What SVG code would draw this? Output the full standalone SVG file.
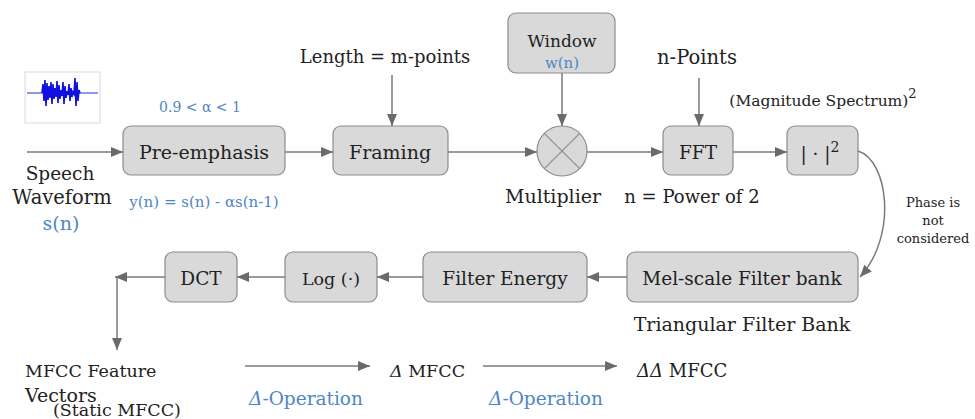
<svg xmlns="http://www.w3.org/2000/svg" width="975" height="419" viewBox="0 0 975 419">
  <defs>
    <marker id="arrow" markerWidth="12" markerHeight="10" refX="12" refY="5" orient="auto" markerUnits="userSpaceOnUse">
      <path d="M0,0 L12,5 L0,10 Z" fill="#6a6a6a"/>
    </marker>
    <style>
      .box { fill: #d9d9d9; stroke: #8c8c8c; stroke-width: 1.2; }
      .conn { fill: none; stroke: #7a7a7a; stroke-width: 1.5; marker-end: url(#arrow); }
      .lbl { font-family: "DejaVu Serif", "Liberation Serif", serif; font-size: 18.5px; fill: #222; text-anchor: middle; }
      .blue { font-family: "DejaVu Serif", "Liberation Serif", serif; font-size: 15px; fill: #4f86c6; text-anchor: middle; }
      .small { font-family: "DejaVu Serif", "Liberation Serif", serif; font-size: 13px; fill: #222; text-anchor: middle; }
      .start { text-anchor: start; }
    </style>
  </defs>
  <rect width="975" height="419" fill="#ffffff"/>

  <!-- speech waveform thumbnail -->
  <g id="waveform">
    <rect x="25" y="72" width="75" height="51" fill="#ffffff" stroke="#cfcfcf" stroke-width="0.8"/>
    <line x1="27" y1="93" x2="98" y2="93" stroke="#2a2ad0" stroke-width="1"/>
    <path d="M42,93 L43,84 L44,101 L45,80 L46,106 L47,83 L48,100 L49,86 L50,98 L51,82 L52,104 L53,84 L54,99 L55,88 L56,97 L57,81 L58,103 L59,85 L60,99 L61,90 L62,96 L63,82 L64,104 L65,86 L66,98 L67,91 L68,95 L69,84 L70,101 L71,88 L72,97 L73,92 L74,94 L75,78 L76,106 L77,82 L78,101 L79,90 L80,93" fill="none" stroke="#1010e0" stroke-width="1.6"/>
  </g>

  <!-- input label -->
  <g id="speech-input">
    <text class="lbl" x="60" y="180">Speech</text>
    <text class="lbl" x="62" y="204" style="font-size:19.5px">Waveform</text>
    <text class="blue" x="61" y="230" style="font-size:19px">s(n)</text>
  </g>

  <g id="pre-emphasis">
    <rect class="box" x="123" y="126" width="162" height="49" rx="8"/>
    <text class="lbl" x="204" y="159" style="font-size:19px">Pre-emphasis</text>
    <text class="blue" x="200" y="112" style="font-size:14px">0.9 &lt; α &lt; 1</text>
    <text class="blue" x="204" y="207">y(n) = s(n) - αs(n-1)</text>
  </g>

  <g id="framing">
    <rect class="box" x="333" y="126" width="115" height="49" rx="8"/>
    <text class="lbl" x="390" y="159" style="font-size:19px">Framing</text>
    <text class="lbl" x="385" y="63" style="font-size:18px">Length = m-points</text>
  </g>

  <g id="window">
    <rect class="box" x="508" y="13" width="107" height="60" rx="8"/>
    <text class="lbl" x="562" y="47" style="font-size:17px">Window</text>
    <text class="blue" x="562" y="68">w(n)</text>
  </g>

  <g id="multiplier">
    <circle cx="562" cy="151" r="25" fill="#d9d9d9" stroke="#8c8c8c" stroke-width="1.2"/>
    <line x1="544.3" y1="133.3" x2="579.7" y2="168.7" stroke="#8c8c8c" stroke-width="1.2"/>
    <line x1="579.7" y1="133.3" x2="544.3" y2="168.7" stroke="#8c8c8c" stroke-width="1.2"/>
    <text class="lbl" x="553" y="203" style="font-size:19px">Multiplier</text>
  </g>

  <g id="fft">
    <rect class="box" x="663" y="126" width="70" height="49" rx="8"/>
    <text class="lbl" x="698" y="159">FFT</text>
    <text class="lbl" x="697" y="64" style="font-size:19.5px">n-Points</text>
    <text class="lbl" x="692" y="203" style="font-size:18px">n = Power of 2</text>
  </g>

  <g id="magnitude">
    <rect class="box" x="787" y="126" width="71" height="49" rx="8"/>
    <text class="lbl" x="820" y="160">| · |<tspan dy="-8" font-size="14">2</tspan></text>
    <text class="lbl" x="823" y="106" style="font-size:15.5px">(Magnitude Spectrum)<tspan dy="-8" font-size="13">2</tspan></text>
  </g>

  <g id="phase-note">
    <text class="small" x="933" y="207">Phase is</text>
    <text class="small" x="933" y="225">not</text>
    <text class="small" x="933" y="243">considered</text>
  </g>

  <g id="mel-filterbank">
    <rect class="box" x="627" y="252" width="231" height="50" rx="8"/>
    <text class="lbl" x="742" y="285">Mel-scale Filter bank</text>
    <text class="lbl" x="742" y="331" style="font-size:19px">Triangular Filter Bank</text>
  </g>

  <g id="filter-energy">
    <rect class="box" x="423" y="252" width="164" height="50" rx="8"/>
    <text class="lbl" x="505" y="285">Filter Energy</text>
  </g>

  <g id="log">
    <rect class="box" x="285" y="252" width="92" height="50" rx="8"/>
    <text class="lbl" x="331" y="285" style="font-size:17.5px">Log (·)</text>
  </g>

  <g id="dct">
    <rect class="box" x="165" y="252" width="72" height="50" rx="8"/>
    <text class="lbl" x="201" y="285">DCT</text>
  </g>

  <g id="mfcc-static">
    <text class="lbl start" x="25" y="377" style="font-size:17.5px">MFCC Feature</text>
    <text class="lbl start" x="25" y="402" style="font-size:19px">Vectors</text>
    <text class="lbl start" x="53" y="416" style="font-size:17.5px">(Static MFCC)</text>
  </g>

  <g id="delta-mfcc">
    <text class="lbl start" x="390" y="377" style="font-size:17.5px"><tspan font-style="italic">Δ</tspan> MFCC</text>
    <text class="blue" x="306" y="405" style="font-size:18.5px"><tspan font-style="italic">Δ</tspan>-Operation</text>
  </g>

  <g id="delta-delta-mfcc">
    <text class="lbl start" x="637" y="377" style="font-size:18px"><tspan font-style="italic">ΔΔ</tspan> MFCC</text>
    <text class="blue" x="546" y="405" style="font-size:18.5px"><tspan font-style="italic">Δ</tspan>-Operation</text>
  </g>

  <!-- connectors -->
  <g id="connectors">
    <line class="conn" x1="27" y1="152" x2="123" y2="152"/>
    <line class="conn" x1="285" y1="152" x2="333" y2="152"/>
    <line class="conn" x1="392" y1="75" x2="392" y2="126"/>
    <line class="conn" x1="448" y1="152" x2="537" y2="152"/>
    <line class="conn" x1="562" y1="73" x2="562" y2="126"/>
    <line class="conn" x1="587" y1="152" x2="663" y2="152"/>
    <line class="conn" x1="699" y1="78" x2="699" y2="126"/>
    <line class="conn" x1="733" y1="152" x2="787" y2="152"/>
    <path class="conn" d="M858,151 C888,160 898,235 860,277"/>
    <line class="conn" x1="627" y1="277" x2="587" y2="277"/>
    <line class="conn" x1="423" y1="277" x2="377" y2="277"/>
    <line class="conn" x1="285" y1="277" x2="237" y2="277"/>
    <line class="conn" x1="165" y1="277" x2="115" y2="277"/>
    <line class="conn" x1="117" y1="277" x2="117" y2="350"/>
    <line class="conn" x1="245" y1="366" x2="370" y2="366"/>
    <line class="conn" x1="483" y1="366" x2="617" y2="366"/>
  </g>
</svg>
